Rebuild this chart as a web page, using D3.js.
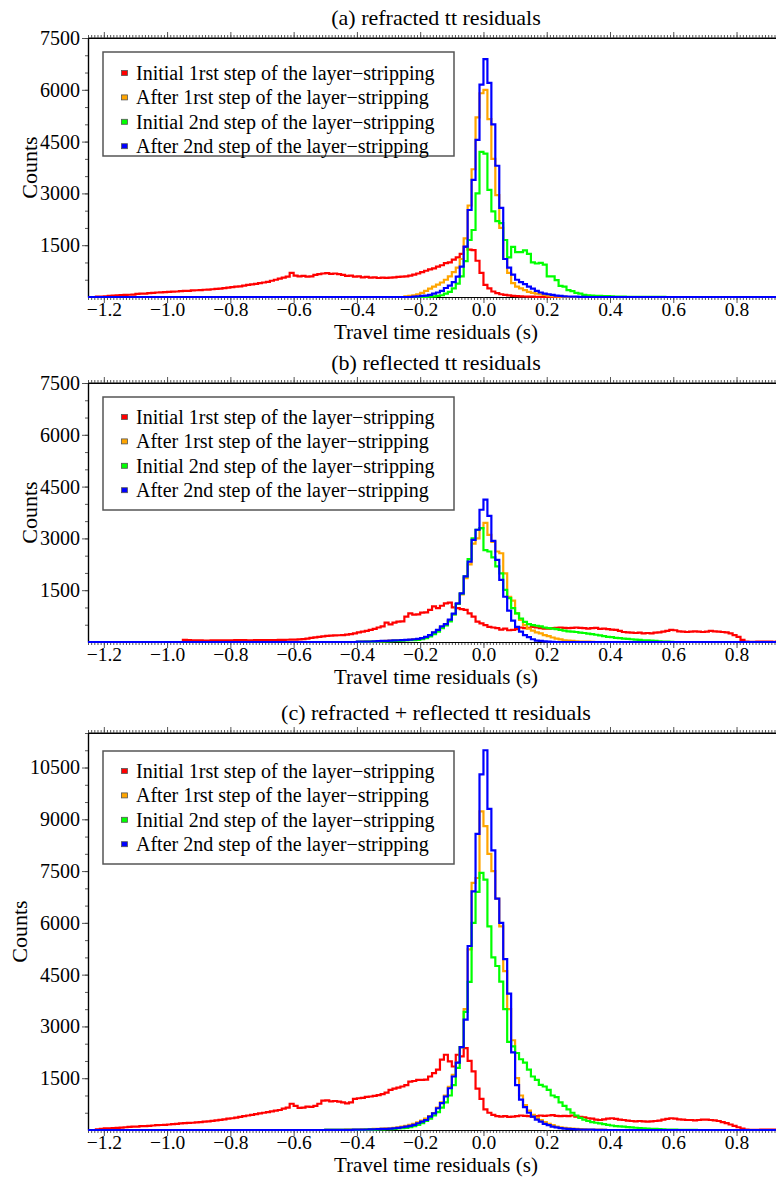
<!DOCTYPE html>
<html>
<head>
<meta charset="utf-8">
<script src="https://cdn.jsdelivr.net/npm/d3@7"></script>
<style>
body { margin: 0; background: #fff; }
svg text { font-family: "Liberation Serif", "Times New Roman", serif; fill: #000; }
</style>
</head>
<body>
<div id="chart"></div>
<script>
"use strict";

// histogram bins: 0.0125 s wide, starting at -1.25 s
const binStart = -1.25;
const binWidth = 0.0125;
const binCount = 176;

const seriesNames = [
    "Initial 1rst step of the layer\u2212stripping",
    "After 1rst step of the layer\u2212stripping",
    "Initial 2nd step of the layer\u2212stripping",
    "After 2nd step of the layer\u2212stripping"
];
const seriesColors = ["#ff0000", "#ffa500", "#00ff00", "#0000ff"];
const panelTitles = [
    "(a) refracted tt residuals",
    "(b) reflected tt residuals",
    "(c) refracted + reflected tt residuals"
];
const xTicks = [-1.2, -1.0, -0.8, -0.6, -0.4, -0.2, 0.0, 0.2, 0.4, 0.6, 0.8];
const yTicksAB = [1500, 3000, 4500, 6000, 7500];
const yTicksC = [1500, 3000, 4500, 6000, 7500, 9000, 10500];

// counts per bin, each list begins at bin index *First
const aRedFirst = 0;
const aRed = [0,0,10,15, 20,30,40,50, 55,60,65,70, 90,95,100,110, 120,130,135,140, 150,155,160,170,
    175,180,190,195, 200,210,215,225, 235,245,255,270, 285,300,310,330, 350,365,380,400, 420,440,470,500,
    530,560,590,700, 620,600,610,590, 600,640,660,680, 690,670,680,660, 640,610,620,590, 600,570,580,560,
    570,550,560,555, 560,570,580,590, 600,620,650,680, 720,760,800,830, 880,920,980,1000, 1080,1150,1250,1450,
    1370,1360,1050,700, 350,250,160,110, 80,60,45,35, 28,20,15,10, 8,5,3,2];
const aOrangeFirst = 80;
const aOrange = [20,30,50,80, 120,180,240,300, 360,420,500,600, 720,850,1100,1700, 2650,3700,5200,5900,
    6000,5150,4000,2950, 2000,1100,700,400, 300,250,200,150, 120,100,80,60, 40,25,15,8, 4];
const aGreenFirst = 86;
const aGreen = [10,20,30,50, 100,150,250,390, 600,1040,1650,1940, 3000,4200,
    4150,3100,2480,2200, 2140,1650,1150,1450, 1300,1300,1350,1250, 1000,970,990,940, 600,600,490,320,
    300,200,170,120, 100,60,50,40, 35,30,28,25, 20,12,10,8, 6,5,5,4,4,3,3,2,2,2];
const aBlueFirst = 82;
const aBlue = [10,20,30,40,60,100,130,175,260,330,430,590,880,1460,2520,3390,4550,6150,
    6890,6200,5000,3800, 2580,1100,850,650, 500,430,370,300, 240,180,130,100, 80,60,40,30, 20,15,10,8,5,3];

const bRedFirst = 24;
const bRed = [60,55,50,45,45,40,40,45, 45,45,50,50,50,55,55,55, 50,50,52,52,55,55,58,58,
    60,62,65,68,70,75,85,100, 120,135,150,165,180,185,190,195, 200,215,230,250,280,300,320,350,
    380,420,450,560,510,560,590,600, 735,830,790,800,850,860,930,1030, 980,1050,1120,1140,1000,980,950,930,
    830,735,590,540,490,440,420,400, 360,390,340,350,370,420,400,410, 440,420,400,390,390,400,410,420,
    410,400,410,420,410,400,390,400, 410,380,390,370,360,350,320,290, 280,270,260,270,250,260,250,270,
    280,300,320,350,340,310,300,290, 300,310,300,290,300,320,310,300, 290,280,250,200,150,60,10,5,
    5,8,10,10,8,5,10,15];
const bOrangeFirst = 68;
const bOrange = [5,8,10,12,15,20,25,30, 38,42,48,52, 58,65,75,85, 105,145,195,270, 340,430,500,630,
    800,1100,1380,1850, 2250,2850,3000,3300, 3450,3100,2900,2620, 2570,1990,1310,1200, 830,640,490,390,
    330,280,250,200, 170,130,100,75, 50,40,30,20,15,10,8,5];
const bGreenFirst = 68;
const bGreen = [3,5,8,10,12,15,18,20, 25,30,35,40, 45,50,55,60, 80,110,160,230, 300,400,480,600,
    800,1100,1400,1900, 2400,3000,3250,3300, 2660,2620,2450,2190, 1990,1510,1270,980, 830,680,580,520,
    490,470,450,420, 400,390,370,350, 330,310,300,290, 270,260,240,230, 210,190,170,150, 140,120,110,100,
    90,80,70,60, 50,45,40,30, 20,15,10,5];
const bBlueFirst = 68;
const bBlue = [8,10,12,15,20,25,30,35, 40,45,50,55, 60,70,80,90, 110,150,200,280, 350,450,520,650,
    820,1120,1410,1900, 2330,2960,3250,3830, 4120,3650,2930,2380, 1800,1310,910,620, 440,300,200,140,
    80,40,30,20, 10,5];

const cRedFirst = 0;
const cRed = [0,0,20,30, 45,50,55,60, 70,80,90,95, 100,110,115,120, 130,140,145,150, 160,170,180,190,
    200,205,210,220, 230,240,250,265, 280,295,310,330, 340,360,380,400, 420,440,460,480, 500,520,540,560,
    580,620,650,760, 700,640,650,680, 670,700,760,850, 860,830,840,820, 800,770,800,900, 920,930,960,970,
    990,1010,1040,1080, 1160,1200,1230,1260, 1300,1400,1420,1450, 1450,1460,1550,1650, 1750,2040,2180,1990,
    1840,2180,2130,2370, 2000,1700,1200,900, 600,500,440,400, 390,400,380,390, 400,420,410,400,
    390,400,420,410, 420,430,410,400, 410,400,420,390, 380,370,340,330, 300,290,310,330, 340,320,300,290,
    270,260,250,260, 250,240,250,260, 270,300,320,340, 330,310,300,290, 290,280,290,300, 300,290,280,260,
    230,200,160,120, 80,40,15,5, 5,5,8,10, 10,8,10,10];
const cOrangeFirst = 60;
const cOrange = [2,3,4,5,6,8,10,12, 15,18,22,26, 30,35,40,45, 50,65,80,100, 120,150,180,220,
    270,330,400,490, 650,800,1000,1250, 1600,1950,2400,3500, 5230,7160,7300,9230, 8800,8000,7500,6700,
    5900,4600,3500,2600, 1500,1000,720,560, 440,350,290,230, 180,140,100,80, 60,50,40,30,
    25,20,15,12,10,8,5];
const cGreenFirst = 60;
const cGreen = [1,1,2,2,3,3,4,5, 6,7,8,10, 12,15,18,22, 25,35,45,50, 60,80,110,150, 200,260,330,420,
    520,650,800,1000, 1300,1800,2400,3420, 4290,6000,6900,7450, 7250,5900,5000,4750, 4300,3500,2550,2420,
    2230,2050,1950,1750, 1550,1450,1310,1260, 1160,1000,950,800, 700,600,500,420, 350,300,260,230,
    210,190,170,150, 130,115,105,95, 85,75,65,55, 50,40,35,30, 25,20,15,10, 8,6,5,4,3,2];
const cBlueFirst = 60;
const cBlue = [2,2,3,3,4,5,6,8, 10,12,15,18, 22,26,30,35, 42,50,60,80, 100,120,150,195,
    240,290,390,480, 630,780,970,1210, 1550,1950,2400,3200, 5330,6910,8580,10300, 11000,9300,8100,6700,
    6000,4950,3950,2250, 1300,880,660,500, 390,300,240,180, 140,100,75,55, 40,30,25,20,
    15,12,10,8,6,5,4];

function fillBins(first, counts) {
    var out = new Array(binCount).fill(0);
    counts.forEach(function(c, i) { if (first + i < binCount) out[first + i] = c; });
    return out;
}

var panelData = [
    [fillBins(aRedFirst, aRed), fillBins(aOrangeFirst, aOrange), fillBins(aGreenFirst, aGreen), fillBins(aBlueFirst, aBlue)],
    [fillBins(bRedFirst, bRed), fillBins(bOrangeFirst, bOrange), fillBins(bGreenFirst, bGreen), fillBins(bBlueFirst, bBlue)],
    [fillBins(cRedFirst, cRed), fillBins(cOrangeFirst, cOrange), fillBins(cGreenFirst, cGreen), fillBins(cBlueFirst, cBlue)]
];

var panels = [
    {top: 38, bottom: 297, yMax: 7500, yTicks: yTicksAB, boxTop: 52, boxH: 104, row0: 73, countsX: 37},
    {top: 383, bottom: 642, yMax: 7500, yTicks: yTicksAB, boxTop: 397, boxH: 113, row0: 417, countsX: 37},
    {top: 733, bottom: 1130, yMax: 11500, yTicks: yTicksC, boxTop: 751, boxH: 113, row0: 771, countsX: 27}
];

var width = 776, height = 1177,
    left = 88, right = 784;

var x = d3.scaleLinear().domain([binStart, binStart + binWidth * binCount]).range([left, right]);
var xMinor = d3.range(-125, 96).map(v => v / 100);

var svg = d3.select("#chart")
    .append("svg")
    .attr("width", width)
    .attr("height", height);

var fmtX = d3.format(".1f");

panels.forEach(function(p, pi) {
    var y = d3.scaleLinear().domain([0, p.yMax]).range([p.bottom, p.top]);
    var g = svg.append("g");

    // frame lines
    g.append("line").attr("x1", left).attr("x2", right).attr("y1", p.top).attr("y2", p.top)
        .attr("stroke", "#000").attr("stroke-width", 1.2);

    // bottom axis
    var bx = g.append("g").attr("transform", "translate(0," + p.bottom + ")");
    bx.append("g").call(d3.axisBottom(x).tickValues(xMinor).tickSize(3).tickSizeOuter(0).tickFormat(""));
    var bMajor = bx.append("g").call(d3.axisBottom(x).tickValues(xTicks).tickSize(6).tickSizeOuter(0).tickFormat(fmtX));
    bMajor.selectAll(".tick text").attr("y", 19).attr("dy", null).attr("font-size", 19.5);

    // top axis
    var tx = g.append("g").attr("transform", "translate(0," + p.top + ")");
    tx.append("g").call(d3.axisTop(x).tickValues(xMinor).tickSize(3).tickSizeOuter(0).tickFormat(""));
    tx.append("g").call(d3.axisTop(x).tickValues(xTicks).tickSize(6).tickSizeOuter(0).tickFormat(""));

    // left axis
    var ly = g.append("g").attr("transform", "translate(" + left + ",0)");
    ly.append("g").call(d3.axisLeft(y).tickValues(d3.range(500, p.yMax + 1, 500)).tickSize(3).tickSizeOuter(0).tickFormat(""));
    var lMajor = ly.append("g").call(d3.axisLeft(y).tickValues(p.yTicks).tickSize(6).tickSizeOuter(0).tickPadding(2).tickFormat(d3.format("d")));
    lMajor.selectAll(".tick text").attr("font-size", 20);

    g.selectAll(".domain").attr("stroke", "#000").attr("stroke-width", 1.2);
    g.selectAll(".tick line").attr("stroke", "#444").attr("stroke-width", 0.9);
    g.selectAll(".tick text").attr("font-family", "Liberation Serif").attr("fill", "#000");

    // histograms
    var clipId = "clip" + pi;
    svg.append("clipPath").attr("id", clipId)
        .append("rect").attr("x", left).attr("y", p.top - 1).attr("width", right - left).attr("height", p.bottom - p.top + 2.5);

    var line = d3.line()
        .x(d => x(d[0]))
        .y(d => y(d[1]))
        .curve(d3.curveStepAfter);

    var hg = g.append("g").attr("clip-path", "url(#" + clipId + ")");
    panelData[pi].forEach(function(counts, si) {
        var pts = counts.map((c, i) => [binStart + i * binWidth, c]);
        pts.push([binStart + binCount * binWidth, counts[binCount - 1]]);
        hg.append("path")
            .attr("d", line(pts))
            .attr("fill", "none")
            .attr("stroke", seriesColors[si])
            .attr("stroke-width", 2.2)
            .attr("stroke-linejoin", "miter");
    });

    // titles
    g.append("text")
        .attr("x", 436).attr("y", p.top - 13.5)
        .attr("text-anchor", "middle").attr("font-size", 22)
        .text(panelTitles[pi]);
    g.append("text")
        .attr("x", 436).attr("y", p.bottom + 42)
        .attr("text-anchor", "middle").attr("font-size", 21)
        .text("Travel time residuals (s)");
    g.append("text")
        .attr("transform", "translate(" + p.countsX + "," + ((p.top + p.bottom) / 2) + ") rotate(-90)")
        .attr("text-anchor", "middle").attr("font-size", 22)
        .text("Counts");

    // legend
    var lg = g.append("g");
    lg.append("rect")
        .attr("x", 103).attr("y", p.boxTop).attr("width", 351).attr("height", p.boxH)
        .attr("fill", "#fff").attr("stroke", "#555").attr("stroke-width", 1.5);
    seriesNames.forEach(function(name, si) {
        var ry = p.row0 + si * 24.4;
        lg.append("rect")
            .attr("x", 121.5).attr("y", ry - 2.5).attr("width", 6).attr("height", 5)
            .attr("fill", seriesColors[si]).attr("stroke", "#555").attr("stroke-width", 0.8);
        lg.append("text")
            .attr("x", 136).attr("y", ry + 7)
            .attr("font-size", 20)
            .text(name);
    });
});
</script>
</body>
</html>
